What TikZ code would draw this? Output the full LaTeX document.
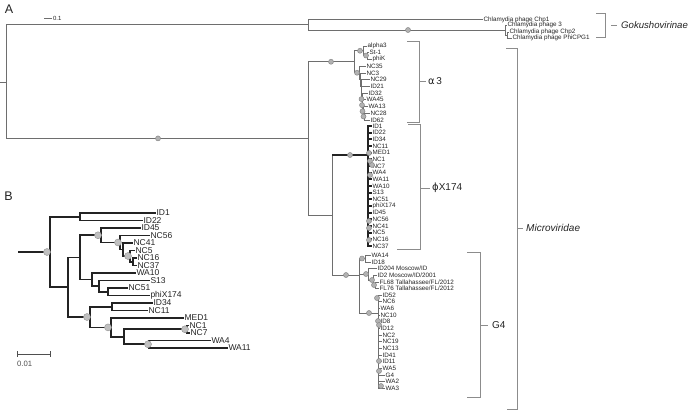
\documentclass[tikz,border=0pt]{standalone}
\usepackage{fontspec}
\setmainfont{Liberation Sans}
\newfontfamily\grkfont{DejaVu Sans}
\usetikzlibrary{positioning}
\definecolor{treegray}{RGB}{110,110,110}
\definecolor{treedark}{RGB}{35,35,35}
\definecolor{brkgray}{RGB}{140,140,140}
\definecolor{dotfill}{RGB}{178,178,178}
\definecolor{dotedge}{RGB}{135,135,135}
\definecolor{dotfillB}{RGB}{192,192,192}
\tikzset{
  brA/.style={draw=treegray, line width=0.8pt},
  brAk/.style={draw=treedark, line width=2pt},
  brB/.style={draw=treedark, line width=1.7pt},
  bsA/.style={circle, draw=dotedge, fill=dotfill, line width=0.5pt, inner sep=0pt, minimum size=5pt},
  bsB/.style={circle, draw=dotfillB!75!black, fill=dotfillB, line width=0.4pt, inner sep=0pt, minimum size=7pt},
  leafA/.style={anchor=west, inner sep=0.4pt, font=\fontsize{6.3}{6.3}\selectfont, text=treedark},
  leafB/.style={anchor=west, inner sep=0.3pt, font=\fontsize{8.5}{8.5}\selectfont, text=treedark},
  brk/.style={draw=brkgray, line width=0.9pt},
  cladelab/.style={anchor=west, inner sep=0pt, font=\fontsize{10}{10}\selectfont, text=treedark},
  panlab/.style={inner sep=0pt, font=\fontsize{12.5}{12.5}\selectfont, text=treedark},
}

\begin{document}
\begin{tikzpicture}[x=1pt, y=-1pt]
  \useasboundingbox (0,0) rectangle (694,410);

  % ---------- panel A ----------
  \node[panlab] (labA) at (9,9.5) {A};
  \coordinate (scA0) at (44,18);
  \coordinate (scA1) at (52,18);
  \draw[brA] (scA0) -- (scA1);
  \node[anchor=west, inner sep=0.8pt, font=\fontsize{6}{6}\selectfont, text=treedark] (scAlab) at (scA1) {0.1};

  % internal nodes
  \coordinate (a0) at (0,82);
  \coordinate (aR) at (6,82);
  \coordinate (aG) at (308,24.75);
  \coordinate (aG2) at (505,30);
  \coordinate (aG3) at (507,35);
  \coordinate (aM) at (308,138.4);
  \coordinate (aAl) at (354,61.75);
  \coordinate (aAl1) at (363,50.75);
  \coordinate (aAl1b) at (367,55.5);
  \coordinate (aL1) at (359,72.75);
  \coordinate (aL2) at (360,79.5);
  \coordinate (aL3) at (361,86);
  \coordinate (aL4) at (361.5,92.5);
  \coordinate (aL5) at (362,99.06);
  \coordinate (aL6) at (362.5,105.1);
  \coordinate (aL7) at (363,111.25);
  \coordinate (aL8) at (364,116.5);
  \coordinate (aPG) at (332,215);
  \coordinate (aPX) at (368,155);
  \coordinate (aG4) at (359,275);
  \coordinate (aG4a) at (365,258.5);
  \coordinate (aG4b) at (368,274);
  \coordinate (aG4b2) at (373,280);
  \coordinate (aG4b3) at (375,285);
  \coordinate (aG4c) at (378,313);

  % Gokushovirinae leaves
  \node[leafA] (chp1) at (483,19.5) {Chlamydia phage Chp1};
  \node[leafA] (chp3) at (507,25) {Chlamydia phage 3};
  \node[leafA] (chp2) at (509,32) {Chlamydia phage Chp2};
  \node[leafA] (cpg1) at (512,38) {Chlamydia phage PhiCPG1};

  \draw[brA] (a0) -- (aR);
  \draw[brA] (aR) |- (aG);
  \draw[brA] (aR) |- (aM);
  \draw[brA] (aG) |- (chp1.west);
  \draw[brA] (aG) |- (aG2);
  \draw[brA] (aG2) |- (chp3.west);
  \draw[brA] (aG2) |- (aG3);
  \draw[brA] (aG3) |- (chp2.west);
  \draw[brA] (aG3) |- (cpg1.west);

  % alpha3 clade
  \node[leafA] (al3) at (367,46) {alpha3};
  \node[leafA] (st1) at (369,52) {St-1};
  \node[leafA] (phik) at (372,59) {phiK};
  \node[leafA] (nc35) at (366,66) {NC35};
  \node[leafA] (nc3) at (366,73) {NC3};
  \node[leafA] (nc29) at (370,79.5) {NC29};
  \node[leafA] (id21) at (370,86) {ID21};
  \node[leafA] (id32) at (368,93) {ID32};
  \node[leafA] (wa45) at (366,99) {WA45};
  \node[leafA] (wa13) at (368,106) {WA13};
  \node[leafA] (nc28) at (370,113) {NC28};
  \node[leafA] (id62) at (370,120) {ID62};

  \draw[brA] (aM) |- (aAl);
  \draw[brA] (aAl) |- (aAl1);
  \draw[brA] (aAl) |- (aL1);
  \draw[brA] (aAl1) |- (al3.west);
  \draw[brA] (aAl1) |- (aAl1b);
  \draw[brA] (aAl1b) |- (st1.west);
  \draw[brA] (aAl1b) |- (phik.west);
  \draw[brA] (aL1) |- (nc35.west);
  \draw[brA] (aL1) |- (aL2);
  \draw[brA] (aL2) |- (nc3.west);
  \draw[brA] (aL2) |- (aL3);
  \draw[brA] (aL3) |- (nc29.west);
  \draw[brA] (aL3) |- (aL4);
  \draw[brA] (aL4) |- (id21.west);
  \draw[brA] (aL4) |- (aL5);
  \draw[brA] (aL5) |- (id32.west);
  \draw[brA] (aL5) |- (aL6);
  \draw[brA] (aL6) |- (wa45.west);
  \draw[brA] (aL6) |- (aL7);
  \draw[brA] (aL7) |- (wa13.west);
  \draw[brA] (aL7) |- (aL8);
  \draw[brA] (aL8) |- (nc28.west);
  \draw[brA] (aL8) |- (id62.west);

  % phiX174 clade
  \draw[brA] (aM) |- (aPG);
  \draw[brA] (aPG) |- (aG4);
  \draw[brA] (aPG) |- (aPX);
  \draw[brAk] (aPG |- aPX) -- (aPX);
  \foreach \lab [count=\i from 0] in {ID1,ID22,ID34,NC11,MED1,NC1,NC7,WA4,WA11,WA10,S13,NC51,phiX174,ID45,NC56,NC41,NC5,NC16,NC37}{
    \node[leafA] (px-\lab) at (372,{126+6.667*\i}) {\lab};
    \draw[brAk] (aPX) |- (px-\lab.west);
  }

  % G4 clade
  \node[leafA] (wa14) at (371,255) {WA14};
  \node[leafA] (id18) at (371,262) {ID18};
  \node[leafA] (id204) at (377,268) {ID204 Moscow/ID};
  \node[leafA] (id2) at (377,275) {ID2 Moscow/ID/2001};
  \node[leafA] (fl68) at (379,282) {FL68 Tallahassee/FL/2012};
  \node[leafA] (fl76) at (379,288) {FL76 Tallahassee/FL/2012};
  \draw[brA] (aG4) |- (aG4a);
  \draw[brA] (aG4) |- (aG4b);
  \draw[brA] (aG4) |- (aG4c);
  \draw[brA] (aG4a) |- (wa14.west);
  \draw[brA] (aG4a) |- (id18.west);
  \draw[brA] (aG4b) |- (id204.west);
  \draw[brA] (aG4b) |- (aG4b2);
  \draw[brA] (aG4b2) |- (id2.west);
  \draw[brA] (aG4b2) |- (aG4b3);
  \draw[brA] (aG4b3) |- (fl68.west);
  \draw[brA] (aG4b3) |- (fl76.west);
  \foreach \lab/\x [count=\i from 0] in {ID52/382,NC6/382,WA6/380,NC10/380,ID8/380,ID12/380,NC2/382,NC19/382,NC13/382,ID41/382,ID11/382,WA5/382,G4/385,WA2/385,WA3/385}{
    \node[leafA] (g4-\lab) at (\x,{295+6.667*\i}) {\lab};
    \draw[brA] (aG4c) |- (g4-\lab.west);
  }

  % support markers A
  \foreach \x/\y [count=\i] in {408/30,158/138.4,331/61.75,360/50.75,366/55.5,357/72.75,361.5/99.06,362/105.1,362.5/111.25,363.5/116.5,
      350/155,369/153,370/161,372/165,370/175,369/221,369/228,369/240,
      346/275,362/258.5,366/274,372/280,374/285,369/313,377/298,378/321,379/325,379/361,379/371,381/386}
    \node[bsA] (sA\i) at (\x,\y) {};

  % clade brackets
  \draw[brk] (596,13) -- (605,13) -- (605,37) -- (596,37);
  \draw[brk] (611,25) -- (617,25);
  \node[cladelab, font=\fontsize{9.6}{9.6}\selectfont\itshape] (goku) at (621,25) {Gokushovirinae};
  \draw[brk] (407,41) -- (419,41) -- (419,122) -- (407,122);
  \draw[brk] (420,81) -- (426,81);
  \node[cladelab] (alf) at (428,81) {{\grkfont α}\,3};
  \draw[brk] (408,124) -- (420,124) -- (420,249) -- (397,249);
  \draw[brk] (420,188) -- (430,188);
  \node[cladelab] (phx) at (432,188) {{\grkfont ϕ}X174};
  \draw[brk] (467,252) -- (480,252) -- (480,397) -- (467,397);
  \draw[brk] (481,325) -- (488,325);
  \node[cladelab] (gfour) at (492,325) {G4};
  \draw[brk] (506,48) -- (517,48) -- (517,409) -- (507,409);
  \draw[brk] (517,228) -- (523,228);
  \node[cladelab, font=\fontsize{10}{10}\selectfont\itshape] (micro) at (526,228) {Microviridae};

  % ---------- panel B ----------
  \node[panlab] (labB) at (8.5,196) {B};
  \coordinate (b0) at (18,252);
  \coordinate (b1) at (50,252);
  \coordinate (bT1) at (80,216.75);
  \coordinate (bT2) at (68,287.2);
  \coordinate (bU) at (80,257.4);
  \coordinate (bU1) at (101,235.25);
  \coordinate (bU1b) at (120,242.5);
  \coordinate (bU1c) at (123,249.5);
  \coordinate (bU1d) at (130,256);
  \coordinate (bU1e) at (133,261.75);
  \coordinate (bU2) at (92,279.6);
  \coordinate (bS) at (99,286.1);
  \coordinate (bN) at (108,291.75);
  \coordinate (bV) at (90,317);
  \coordinate (bW) at (112,306.75);
  \coordinate (bX) at (111,327.4);
  \coordinate (bY) at (124,336.75);
  \coordinate (bZ1) at (187,329.25);
  \coordinate (bZ2) at (149,344.25);

  \foreach \lab/\x [count=\i from 0] in {ID1/156,ID22/143,ID45/141,NC56/150,NC41/133,NC5/135,NC16/137,NC37/137,WA10/136,S13/150,NC51/128,phiX174/150,ID34/153,NC11/148,MED1/184,NC1/189,NC7/190,WA4/211,WA11/228}
    \node[leafB] (b-\lab) at (\x,{213+7.5*\i}) {\lab};

  \draw[brB] (b0) -- (b1);
  \draw[brB] (b1) |- (bT1);
  \draw[brB] (b1) |- (bT2);
  \draw[brB] (bT1) |- (b-ID1.west);
  \draw[brB] (bT1) |- (b-ID22.west);
  \draw[brB] (bT2) |- (bU);
  \draw[brB] (bT2) |- (bV);
  \draw[brB] (bU) |- (bU1);
  \draw[brB] (bU) |- (bU2);
  \draw[brB] (bU1) |- (b-ID45.west);
  \draw[brB] (bU1) |- (bU1b);
  \draw[brB] (bU1b) |- (b-NC56.west);
  \draw[brB] (bU1b) |- (bU1c);
  \draw[brB] (bU1c) |- (b-NC41.west);
  \draw[brB] (bU1c) |- (bU1d);
  \draw[brB] (bU1d) |- (b-NC5.west);
  \draw[brB] (bU1d) |- (bU1e);
  \draw[brB] (bU1e) |- (b-NC16.west);
  \draw[brB] (bU1e) |- (b-NC37.west);
  \draw[brB] (bU2) |- (b-WA10.west);
  \draw[brB] (bU2) |- (bS);
  \draw[brB] (bS) |- (b-S13.west);
  \draw[brB] (bS) |- (bN);
  \draw[brB] (bN) |- (b-NC51.west);
  \draw[brB] (bN) |- (b-phiX174.west);
  \draw[brB] (bV) |- (bW);
  \draw[brB] (bV) |- (bX);
  \draw[brB] (bW) |- (b-ID34.west);
  \draw[brB] (bW) |- (b-NC11.west);
  \draw[brB] (bX) |- (b-MED1.west);
  \draw[brB] (bX) |- (bY);
  \draw[brB] (bY) |- (bZ1);
  \draw[brB] (bY) |- (bZ2);
  \draw[brB] (bZ1) |- (b-NC1.west);
  \draw[brB] (bZ1) |- (b-NC7.west);
  \draw[brB] (bZ2) |- (b-WA4.west);
  \draw[brB] (bZ2) |- (b-WA11.west);

  % support markers B
  \foreach \x/\y [count=\i] in {47/252,98/235.25,118/242.5,128/256,87/317,108/327.4,185/329.25,148/344.25}
    \node[bsB] (sB\i) at (\x,\y) {};

  % scale bar B
  \coordinate (scB0) at (17,354);
  \coordinate (scB1) at (50,354);
  \draw[brA, draw=treedark!80] (scB0) -- (scB1);
  \draw[brA, draw=treedark!80] ([yshift=3pt]scB0) -- ([yshift=-3pt]scB0);
  \draw[brA, draw=treedark!80] ([yshift=3pt]scB1) -- ([yshift=-3pt]scB1);
  \node[anchor=west, inner sep=0pt, font=\fontsize{7.7}{7.7}\selectfont, text=treedark!80] (scBlab) at (17,364) {0.01};
\end{tikzpicture}
\end{document}
